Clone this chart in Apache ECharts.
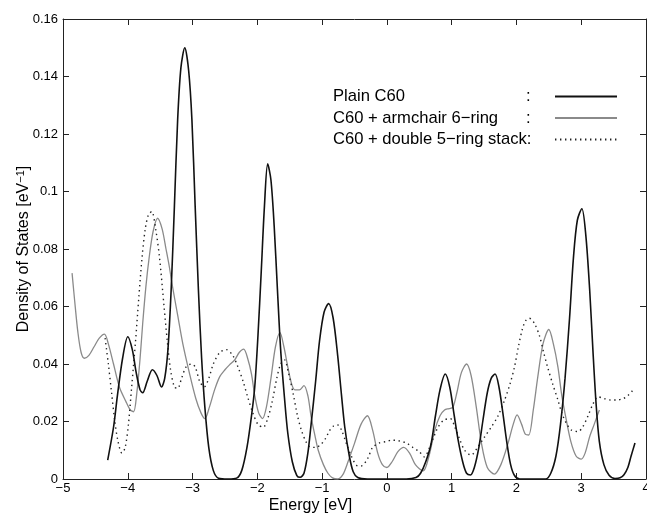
<!DOCTYPE html>
<html>
<head>
<meta charset="utf-8">
<script src="https://cdn.jsdelivr.net/npm/echarts@6/dist/echarts.min.js"></script>
<style>html,body{margin:0;padding:0;background:#fff}#c{width:647px;height:517px}</style>
</head>
<body>
<div id="c"></div>
<script>
var seriesNames = ['Plain C60', 'C60 + armchair 6\u2212ring', 'C60 + double 5\u2212ring stack'];
var xTicks = [-5, -4, -3, -2, -1, 0, 1, 2, 3, 4];
var yTicks = [0, 0.02, 0.04, 0.06, 0.08, 0.1, 0.12, 0.14, 0.16];

var plainC60 = [
[-4.31,0.0066],[-4.22,0.018],[-4.16,0.029],[-4.08,0.042],[-4.0,0.0495],[-3.93,0.045],[-3.87,0.037],[-3.81,0.031],[-3.77,0.030],
[-3.70,0.034],[-3.62,0.038],[-3.55,0.036],[-3.48,0.032],[-3.43,0.035],[-3.38,0.045],[-3.33,0.066],[-3.28,0.095],[-3.23,0.125],
[-3.18,0.143],[-3.12,0.150],[-3.06,0.142],[-3.01,0.125],[-2.96,0.095],[-2.91,0.066],[-2.86,0.042],[-2.81,0.025],[-2.75,0.011],
[-2.68,0.003],[-2.60,0.0003],[-2.45,0],[-2.32,0.0003],[-2.24,0.003],[-2.16,0.011],[-2.09,0.022],[-2.04,0.032],[-1.99,0.050],
[-1.94,0.072],[-1.89,0.095],[-1.84,0.1096],[-1.79,0.104],[-1.74,0.088],[-1.69,0.066],[-1.64,0.045],[-1.58,0.028],[-1.53,0.016],
[-1.46,0.006],[-1.39,0.0012],[-1.34,0.0006],[-1.28,0.002],[-1.22,0.009],[-1.17,0.019],[-1.10,0.034],[-1.04,0.048],[-0.97,0.058],
[-0.90,0.061],[-0.83,0.056],[-0.76,0.043],[-0.70,0.029],[-0.65,0.018],[-0.58,0.008],[-0.52,0.0025],[-0.45,0.0005],[-0.30,0],
[0.30,0],[0.45,0.0005],[0.52,0.002],[0.60,0.006],[0.68,0.012],[0.75,0.022],[0.82,0.031],[0.90,0.0365],[0.97,0.032],[1.04,0.022],
[1.10,0.0135],[1.17,0.006],[1.23,0.002],[1.29,0.0014],[1.35,0.004],[1.42,0.011],[1.48,0.020],[1.55,0.030],[1.61,0.035],[1.67,0.0365],
[1.73,0.032],[1.79,0.023],[1.85,0.013],[1.91,0.005],[1.97,0.0012],[2.05,0],[2.45,0],[2.53,0.002],[2.61,0.008],[2.68,0.019],
[2.75,0.035],[2.82,0.056],[2.88,0.077],[2.94,0.090],[3.01,0.094],[3.07,0.085],[3.13,0.066],[3.18,0.045],[3.23,0.026],[3.28,0.013],
[3.35,0.005],[3.43,0.0013],[3.52,0.0002],[3.60,0.0004],[3.66,0.0015],[3.72,0.004],[3.77,0.008],[3.83,0.0125]
];

var armchair6 = [
[-4.86,0.0716],[-4.82,0.062],[-4.77,0.051],[-4.72,0.044],[-4.67,0.042],[-4.60,0.043],[-4.52,0.046],[-4.44,0.049],[-4.36,0.0504],
[-4.30,0.047],[-4.22,0.040],[-4.13,0.032],[-4.03,0.027],[-3.96,0.024],[-3.91,0.0234],[-3.86,0.030],[-3.81,0.042],[-3.77,0.054],
[-3.72,0.067],[-3.67,0.077],[-3.61,0.086],[-3.54,0.0907],[-3.47,0.087],[-3.41,0.080],[-3.36,0.074],[-3.31,0.067],[-3.23,0.057],
[-3.15,0.047],[-3.05,0.037],[-2.95,0.028],[-2.87,0.023],[-2.81,0.021],[-2.74,0.025],[-2.66,0.031],[-2.58,0.0356],[-2.50,0.038],
[-2.43,0.0397],[-2.35,0.0414],[-2.28,0.044],[-2.21,0.0452],[-2.15,0.042],[-2.09,0.0365],[-2.04,0.029],[-1.98,0.023],[-1.92,0.021],
[-1.86,0.025],[-1.79,0.035],[-1.72,0.046],[-1.65,0.0509],[-1.59,0.046],[-1.53,0.039],[-1.47,0.033],[-1.42,0.031],[-1.35,0.031],
[-1.28,0.0325],[-1.22,0.029],[-1.17,0.0217],[-1.11,0.015],[-1.06,0.010],[-0.98,0.005],[-0.91,0.002],[-0.84,0.0004],[-0.76,0.0],
[-0.68,0.0015],[-0.60,0.006],[-0.50,0.0124],[-0.40,0.019],[-0.30,0.022],[-0.22,0.017],[-0.14,0.0089],[-0.07,0.005],[0.0,0.004],
[0.08,0.006],[0.17,0.0095],[0.26,0.011],[0.35,0.009],[0.44,0.005],[0.56,0.0028],[0.65,0.008],[0.74,0.017],[0.82,0.022],[0.89,0.024],
[0.96,0.0245],[1.02,0.025],[1.08,0.030],[1.15,0.037],[1.23,0.040],[1.30,0.036],[1.38,0.025],[1.46,0.0124],[1.55,0.004],[1.66,0.0017],
[1.76,0.005],[1.87,0.0124],[1.95,0.019],[2.01,0.0223],[2.08,0.019],[2.14,0.0155],[2.19,0.0153],[2.26,0.024],[2.33,0.0356],
[2.41,0.047],[2.50,0.052],[2.57,0.047],[2.64,0.039],[2.70,0.029],[2.77,0.0205],[2.84,0.013],[2.92,0.008],[3.0,0.0069],[3.06,0.009],
[3.13,0.0147],[3.20,0.019],[3.28,0.024]
];

var double5stack = [
[-4.35,0.049],[-4.30,0.040],[-4.25,0.030],[-4.20,0.020],[-4.15,0.013],[-4.09,0.009],[-4.04,0.011],[-3.99,0.019],[-3.94,0.032],
[-3.88,0.048],[-3.83,0.063],[-3.78,0.077],[-3.73,0.087],[-3.68,0.092],[-3.63,0.093],[-3.57,0.087],[-3.51,0.077],[-3.44,0.060],
[-3.39,0.048],[-3.34,0.038],[-3.28,0.032],[-3.23,0.0315],[-3.17,0.035],[-3.10,0.039],[-3.02,0.040],[-2.96,0.039],[-2.89,0.034],
[-2.82,0.032],[-2.75,0.035],[-2.68,0.040],[-2.58,0.044],[-2.48,0.045],[-2.38,0.043],[-2.30,0.039],[-2.22,0.034],[-2.15,0.0286],
[-2.07,0.023],[-1.99,0.019],[-1.91,0.018],[-1.84,0.021],[-1.77,0.027],[-1.70,0.035],[-1.64,0.040],[-1.58,0.0414],[-1.52,0.037],
[-1.45,0.030],[-1.38,0.022],[-1.32,0.017],[-1.25,0.013],[-1.19,0.0112],[-1.10,0.011],[-1.02,0.012],[-0.95,0.014],[-0.88,0.017],
[-0.82,0.0185],[-0.76,0.0188],[-0.70,0.017],[-0.62,0.012],[-0.55,0.008],[-0.47,0.0048],[-0.40,0.0045],[-0.30,0.007],[-0.22,0.011],
[-0.12,0.0125],[-0.02,0.013],[0.08,0.0135],[0.18,0.0133],[0.30,0.0125],[0.40,0.011],[0.50,0.0095],[0.58,0.0077],[0.66,0.011],
[0.73,0.015],[0.79,0.018],[0.88,0.0205],[0.98,0.021],[1.05,0.018],[1.12,0.014],[1.20,0.010],[1.30,0.0083],[1.40,0.011],[1.51,0.0147],
[1.61,0.018],[1.71,0.0217],[1.81,0.027],[1.90,0.033],[1.97,0.039],[2.03,0.046],[2.09,0.052],[2.14,0.055],[2.20,0.0559],[2.28,0.054],
[2.36,0.0495],[2.42,0.044],[2.48,0.039],[2.56,0.033],[2.64,0.0275],[2.70,0.023],[2.77,0.0194],[2.85,0.017],[2.95,0.0165],[3.02,0.018],
[3.10,0.0217],[3.18,0.026],[3.26,0.0286],[3.35,0.028],[3.45,0.0275],[3.55,0.0275],[3.65,0.028],[3.72,0.029],[3.79,0.0307]
];

var FONT = '"Liberation Sans", Arial, Helvetica, sans-serif';
var frameColor = '#222';

function fmtX(v) { return v < 0 ? '\u2212' + (-v) : String(v); }

var chart = echarts.init(document.getElementById('c'), null, { renderer: 'canvas' });
var option = {
  animation: false,
  backgroundColor: '#fff',
  textStyle: { fontFamily: FONT, color: '#000' },
  grid: { left: 63, top: 19, width: 583, height: 460, containLabel: false, outerBoundsMode: 'none' },
  legend: {
    orient: 'vertical',
    left: 333,
    top: 87,
    padding: 0,
    align: 'right',
    itemWidth: 62,
    itemHeight: 14,
    itemGap: 2.5,
    selectedMode: false,
    data: seriesNames,
    itemStyle: { opacity: 0, borderWidth: 0 },
    formatter: function (name) {
      if (name.indexOf('stack') >= 0) { return '{m|' + name + ':}'; }
      return '{n|' + name + '}{c|:}';
    },
    textStyle: {
      fontFamily: FONT,
      fontSize: 16.6,
      color: '#000',
      lineHeight: 19,
      rich: {
        n: { fontSize: 16.6, fontFamily: FONT, color: '#000', width: 193, align: 'left', lineHeight: 19 },
        c: { fontSize: 16.6, fontFamily: FONT, color: '#000', width: 24, align: 'left', lineHeight: 19 },
        m: { fontSize: 16.6, fontFamily: FONT, color: '#000', width: 217, align: 'left', lineHeight: 19 }
      }
    }
  },
  xAxis: [{
    type: 'value',
    min: -5, max: 4, interval: 1,
    position: 'bottom',
    name: 'Energy [eV]',
    nameLocation: 'middle',
    nameGap: 19,
    nameMoveOverlap: false,
    nameTextStyle: { fontFamily: FONT, fontSize: 16, color: '#000', padding: [0, 88, 0, 0] },
    axisLine: { show: true, onZero: false, lineStyle: { color: frameColor, width: 1 } },
    axisTick: { show: true, inside: true, length: 6, lineStyle: { color: frameColor } },
    axisLabel: { fontFamily: FONT, fontSize: 13, color: '#000', margin: 3, formatter: fmtX, showMaxLabel: true },
    splitLine: { show: false }
  }, {
    type: 'value',
    min: -5, max: 4, interval: 1,
    position: 'top',
    axisLine: { show: true, onZero: false, lineStyle: { color: frameColor, width: 1 } },
    axisTick: { show: true, inside: true, length: 6, lineStyle: { color: frameColor } },
    axisLabel: { show: false },
    splitLine: { show: false }
  }],
  yAxis: [{
    type: 'value',
    min: 0, max: 0.16, interval: 0.02,
    position: 'left',
    name: 'Density of States [eV{s|\u22121}]',
    nameLocation: 'middle',
    nameGap: 31,
    nameMoveOverlap: false,
    nameTextStyle: {
      fontFamily: FONT, fontSize: 16, color: '#000',
      rich: { s: { fontFamily: FONT, fontSize: 11, color: '#000', verticalAlign: 'top', padding: [0, 0, 6, 0] } }
    },
    axisLine: { show: true, onZero: false, lineStyle: { color: frameColor, width: 1 } },
    axisTick: { show: true, inside: true, length: 6, lineStyle: { color: frameColor } },
    axisLabel: { fontFamily: FONT, fontSize: 13, color: '#000', margin: 5 },
    splitLine: { show: false }
  }, {
    type: 'value',
    min: 0, max: 0.16, interval: 0.02,
    position: 'right',
    axisLine: { show: true, onZero: false, lineStyle: { color: frameColor, width: 1 } },
    axisTick: { show: true, inside: true, length: 6, lineStyle: { color: frameColor } },
    axisLabel: { show: false },
    splitLine: { show: false }
  }],
  series: [{
    name: seriesNames[0],
    type: 'line',
    data: plainC60,
    symbol: 'none',
    smooth: 0.3,
    lineStyle: { color: '#111', width: 1.6 },
    itemStyle: { color: '#111' },
    z: 3
  }, {
    name: seriesNames[1],
    type: 'line',
    data: armchair6,
    symbol: 'none',
    smooth: 0.3,
    lineStyle: { color: '#8a8a8a', width: 1.3 },
    itemStyle: { color: '#8a8a8a' },
    z: 2
  }, {
    name: seriesNames[2],
    type: 'line',
    data: double5stack,
    symbol: 'none',
    smooth: 0.3,
    lineStyle: { color: '#222', width: 1.4, type: [1.4, 3.6] },
    itemStyle: { color: '#222' },
    z: 2
  }]
};
chart.setOption(option);
</script>
</body>
</html>
